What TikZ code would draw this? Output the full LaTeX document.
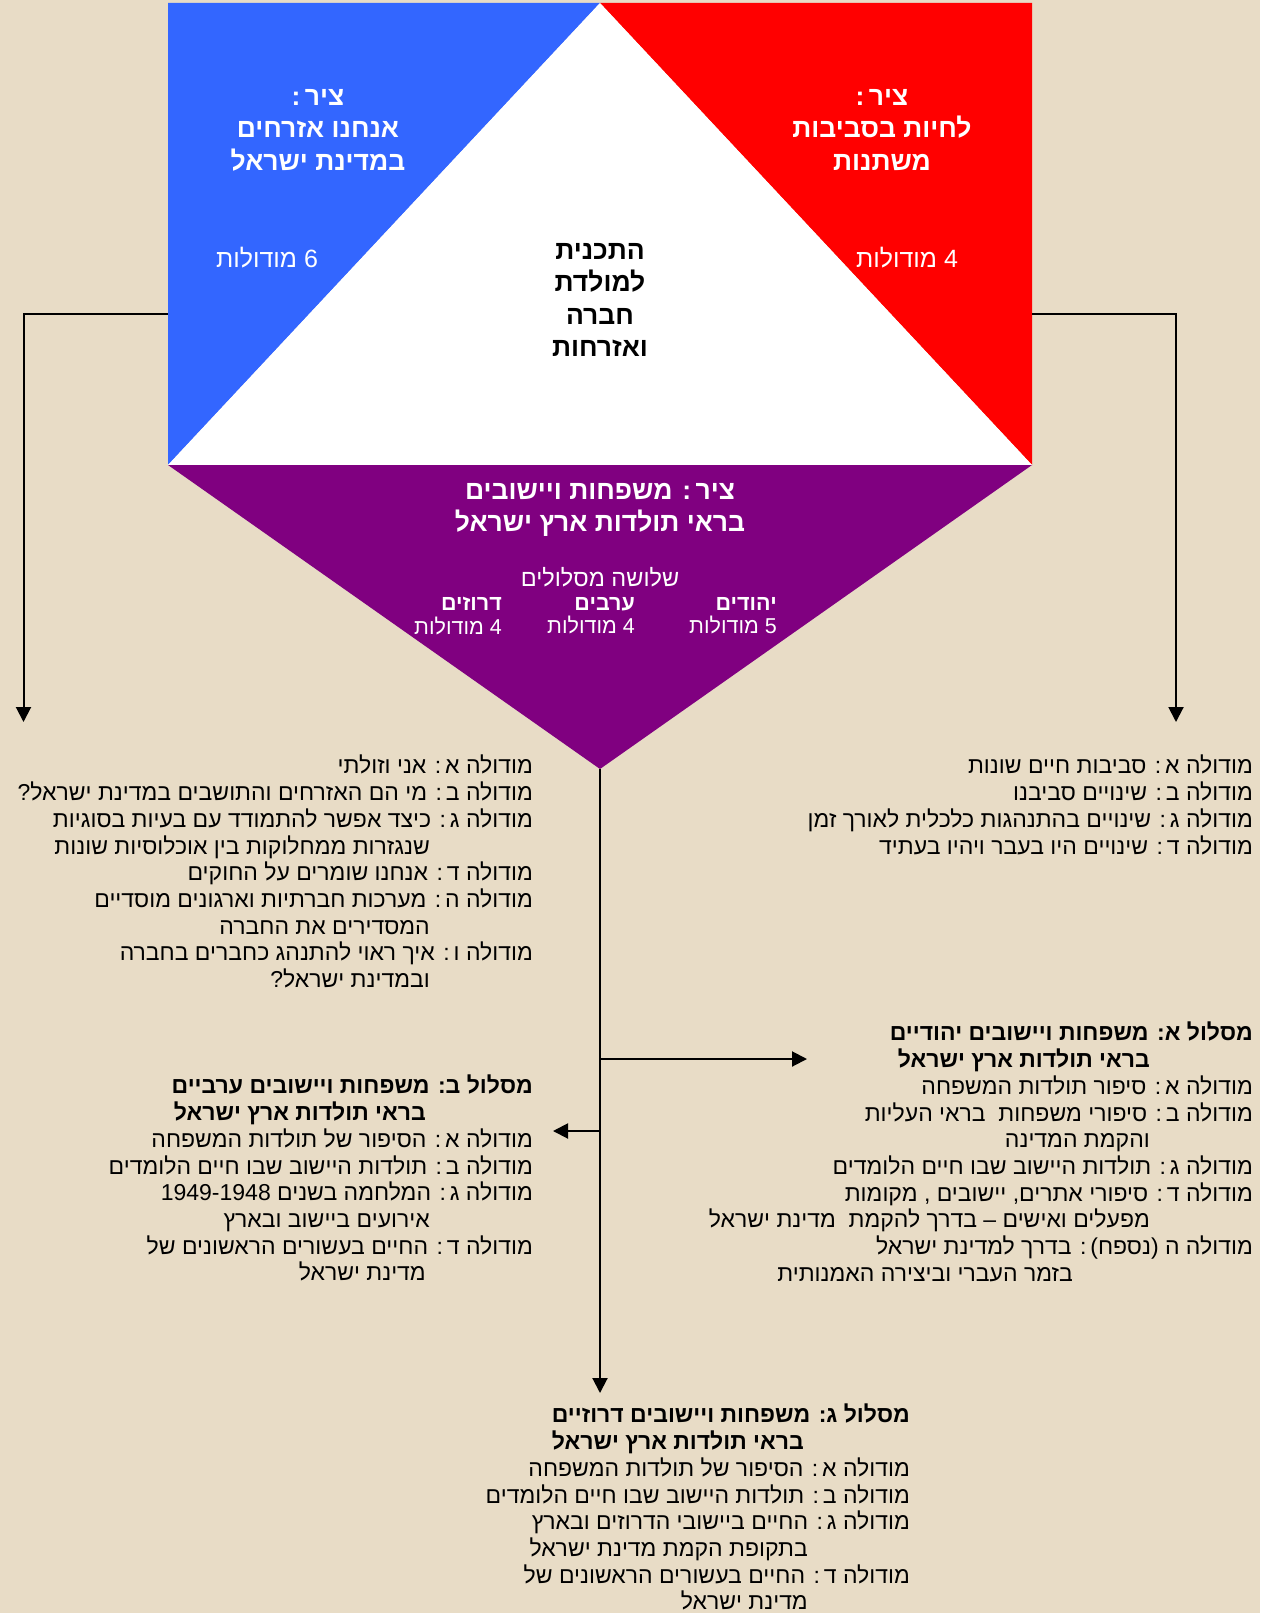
\documentclass[tikz,border=0pt]{standalone}
\usepackage{fontspec}
\newfontfamily\hebfont[Script=Hebrew]{Liberation Sans}
\TeXXeTstate=1
\usetikzlibrary{arrows.meta, positioning}
\definecolor{paper}{RGB}{232,220,198}
\definecolor{axisblue}{RGB}{51,102,255}
\definecolor{axisred}{RGB}{255,0,0}
\definecolor{axispurple}{RGB}{128,0,128}
\newcommand{\rl}[1]{\beginR #1\endR}
\newcommand{\rlin}[2][103]{\beginR #2\endR\makebox[#1pt]{}}

\begin{document}
\begin{tikzpicture}[x=1pt, y=-1pt,
    title/.style={font={\hebfont\fontsize{26.5}{32.5}\selectfont\bfseries}, text=white, align=center, inner sep=0pt},
    count/.style={font={\hebfont\fontsize{25}{28}\selectfont}, text=white, inner sep=0pt},
    track/.style={font={\hebfont\fontsize{21.5}{23.5}\selectfont}, text=white, align=right, anchor=north east, inner sep=0pt},
    modlist/.style={font={\hebfont\fontsize{23}{26.7}\selectfont}, align=right, anchor=north east, inner sep=0pt},
    link/.style={line width=2pt, -{Triangle[width=15pt,length=15pt]}}]
    \fill[paper] (0,0) rectangle (1260,1613);
    \useasboundingbox (0,0) rectangle (1260,1613);
    % the four axes
    \coordinate (tl) at (168,3);
    \coordinate (top) at (600,3);
    \coordinate (tr) at (1032,3);
    \coordinate (bl) at (168,465);
    \coordinate (br) at (1032,465);
    \coordinate (apex) at (600,769);
    \fill[axisblue] (tl) -- (top) -- (bl) -- cycle;
    \fill[axisred] (top) -- (tr) -- (br) -- cycle;
    \fill[white] (top) -- (br) -- (bl) -- cycle;
    \fill[axispurple] (bl) -- (br) -- (apex) -- cycle;

    \node[title] (blueT) at (318,130) {\rl{ציר\,:}\\ \rl{אנחנו אזרחים}\\ \rl{במדינת ישראל}};
    \node[count] (blueN) at (267,258) {\rl{6 מודולות}};
    \node[title] (redT) at (882,130) {\rl{ציר\,:}\\ \rl{לחיות בסביבות}\\ \rl{משתנות}};
    \node[count] (redN) at (907,258) {\rl{4 מודולות}};
    \node[title, text=black] (core) at (600,300) {\rl{התכנית}\\ \rl{למולדת}\\ \rl{חברה}\\ \rl{ואזרחות}};
    \node[title] (purpleT) at (600,510) {\rl{ציר\,: משפחות ויישובים}\\ \rl{בראי תולדות ארץ ישראל}};
    \node[count, font={\hebfont\fontsize{23.5}{26}\selectfont}] (tracks) at (600,577) {\rl{שלושה מסלולים}};
    \node[track] (jews) at (777,597) {{\bfseries\rl{יהודים}}\\ \rl{5 מודולות}};
    \node[track] (arabs) at (635,597) {{\bfseries\rl{ערבים}}\\ \rl{4 מודולות}};
    \node[track] (druze) at (502,597) {{\bfseries\rl{דרוזים}}\\ \rl{4 מודולות}};

    % module lists
    \node[modlist] (civmods) at (533,755) {%
        \rl{מודולה א\,: אני וזולתי}\\
        \rl{מודולה ב\,: מי הם האזרחים והתושבים במדינת ישראל?}\\
        \rl{מודולה ג\,: כיצד אפשר להתמודד עם בעיות בסוגיות}\\
        \rlin{שנגזרות ממחלוקות בין אוכלוסיות שונות}\\
        \rl{מודולה ד\,: אנחנו שומרים על החוקים}\\
        \rl{מודולה ה\,: מערכות חברתיות וארגונים מוסדיים}\\
        \rlin{המסדירים את החברה}\\
        \rl{מודולה ו\,: איך ראוי להתנהג כחברים בחברה}\\
        \rlin{ובמדינת ישראל?}};
    \node[modlist] (envmods) at (1253,755) {%
        \rl{מודולה א\,: סביבות חיים שונות}\\
        \rl{מודולה ב\,: שינויים סביבנו}\\
        \rl{מודולה ג\,: שינויים בהתנהגות כלכלית לאורך זמן}\\
        \rl{מודולה ד\,: שינויים היו בעבר ויהיו בעתיד}};
    \node[modlist] (trackA) at (1253,1022) {%
        {\bfseries\rl{מסלול א: משפחות ויישובים יהודיים}}\\
        {\bfseries\rlin{בראי תולדות ארץ ישראל}}\\
        \rl{מודולה א\,: סיפור תולדות המשפחה}\\
        \rl{מודולה ב\,: סיפורי משפחות\ \ בראי העליות}\\
        \rlin{והקמת המדינה}\\
        \rl{מודולה ג\,: תולדות היישוב שבו חיים הלומדים}\\
        \rl{מודולה ד\,: סיפורי אתרים, יישובים , מקומות}\\
        \rlin{מפעלים ואישים – בדרך להקמת\ \ מדינת ישראל}\\
        \rl{מודולה ה (נספח)\,: בדרך למדינת ישראל}\\
        \rlin[180]{בזמר העברי וביצירה האמנותית}};
    \node[modlist] (trackB) at (533,1075) {%
        {\bfseries\rl{מסלול ב: משפחות ויישובים ערביים}}\\
        {\bfseries\rlin[107]{בראי תולדות ארץ ישראל}}\\
        \rl{מודולה א\,: הסיפור של תולדות המשפחה}\\
        \rl{מודולה ב\,: תולדות היישוב שבו חיים הלומדים}\\
        \rl{מודולה ג\,: המלחמה בשנים \beginL1949-1948\endL}\\
        \rlin{אירועים ביישוב ובארץ}\\
        \rl{מודולה ד\,: החיים בעשורים הראשונים של}\\
        \rlin[107]{מדינת ישראל}};
    \node[modlist] (trackC) at (910,1404) {%
        {\bfseries\rl{מסלול ג: משפחות ויישובים דרוזיים}}\\
        {\bfseries\rlin[106]{בראי תולדות ארץ ישראל}}\\
        \rl{מודולה א\,: הסיפור של תולדות המשפחה}\\
        \rl{מודולה ב\,: תולדות היישוב שבו חיים הלומדים}\\
        \rl{מודולה ג\,: החיים ביישובי הדרוזים ובארץ}\\
        \rlin[102]{בתקופת הקמת מדינת ישראל}\\
        \rl{מודולה ד\,: החיים בעשורים הראשונים של}\\
        \rlin[102]{מדינת ישראל}};

    % connectors
    \coordinate (blueside) at (168,314);
    \coordinate (leftend) at (23.5,722);
    \coordinate (redside) at (1032,314);
    \coordinate (rightend) at (1176,722);
    \coordinate (forkA) at (600,1059);
    \coordinate (endA) at (807,1059);
    \coordinate (forkB) at (600,1131);
    \coordinate (endB) at (553,1131);
    \coordinate (endC) at (600,1393);
    \draw[link] (blueside) -| (leftend);
    \draw[link] (redside) -| (rightend);
    \draw[link] (apex) -- (endC);
    \draw[link] (forkA) -- (endA);
    \draw[link] (forkB) -- (endB);
\end{tikzpicture}
\end{document}
